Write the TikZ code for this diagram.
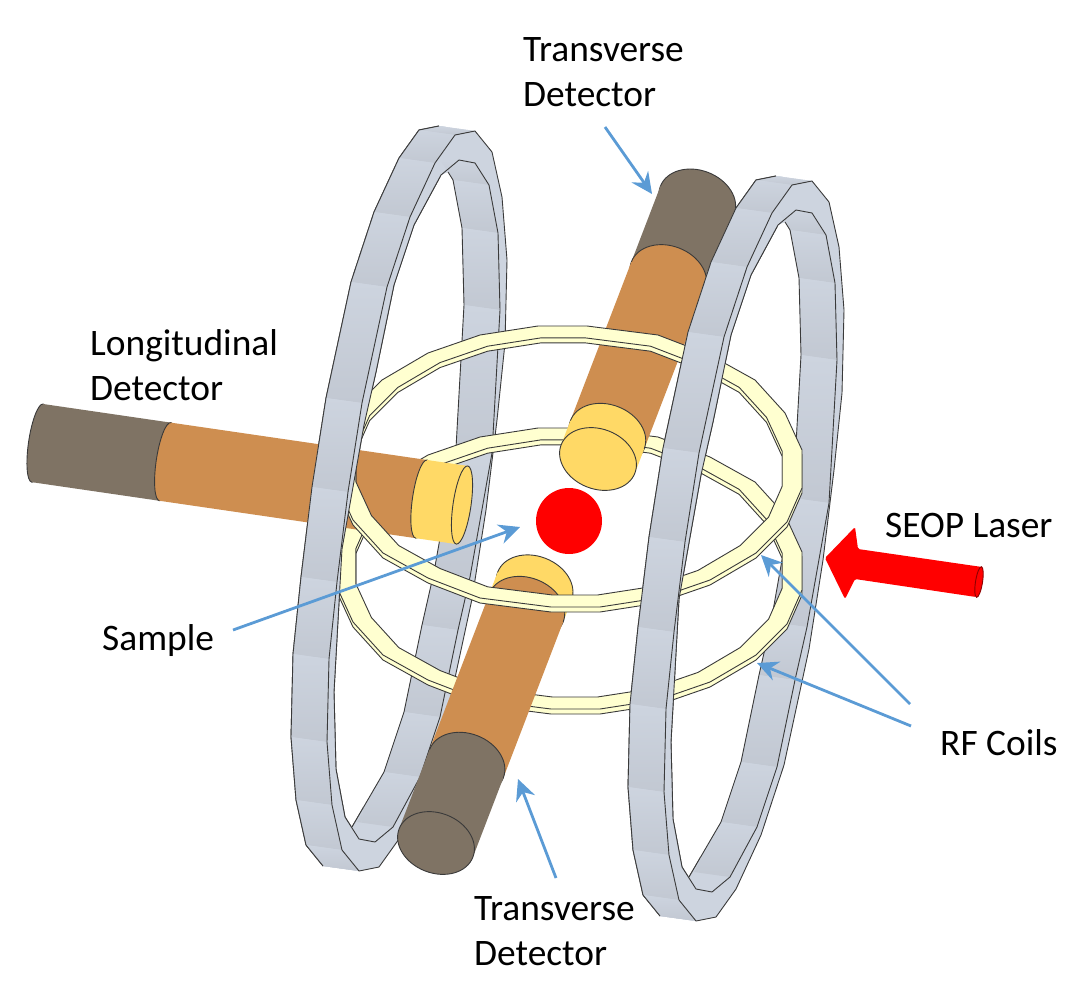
\documentclass[tikz,border=0pt]{standalone}
\usepackage{fontspec}
\setmainfont{Carlito}
\usetikzlibrary{arrows.meta}
\definecolor{ringc}{HTML}{CDD4DF}
\definecolor{ringd}{HTML}{C2C8D2}
\definecolor{coilc}{HTML}{FFFFD0}
\definecolor{darkc}{HTML}{7F7364}
\definecolor{bodyc}{HTML}{CE8E50}
\definecolor{capc}{HTML}{FFD966}
\definecolor{callc}{HTML}{5B9BD5}
\definecolor{edgec}{HTML}{3A3A3A}
% one ring, the other one is the same thing shifted
\newcommand{\ringshape}{%
  \fill[ringc,even odd rule] (323,866) -- (306,845) -- (296,800) -- (291,737) -- (293,654) -- (301,577) -- (312,487) -- (326,398) -- (351,282) -- (374,212) -- (399,158) -- (419,130) -- (439,126) -- (475,131) -- (492,152) -- (502,197) -- (507,260) -- (505,343) -- (497,420) -- (486,510) -- (472,599) -- (447,715) -- (424,785) -- (399,839) -- (379,867) -- (359,871) -- cycle
    (448,172) -- (453,180) -- (462,228) -- (464,305) -- (456,448) -- (434,572) -- (422,625) -- (404,712) -- (384,772) -- (352,827) -- (345,817) -- (336,769) -- (334,692) -- (342,549) -- (364,425) -- (376,372) -- (394,285) -- (414,225) -- (441,175) -- cycle;
  \foreach \xa/\ya/\xb/\yb in {475/131/455/135,455/135/435/163,435/163/410/217,410/217/387/287,387/287/362/403,362/403/348/492,348/492/337/582,337/582/329/659,329/659/327/742,327/742/332/805,332/805/342/850,342/850/359/871,
      475/163/489/185,489/185/498/233,498/233/500/310,500/310/492/453,492/453/470/577,470/577/458/630,458/630/440/717,440/717/420/777,420/777/393/827}
    \shade[top color=ringc,middle color=ringc,bottom color=ringd] (\xa-36,\ya-5) -- (\xa,\ya) -- (\xb,\yb) -- (\xb-36,\yb-5) -- cycle;
  \draw[edgec,thinline] (323,866) -- (306,845) -- (296,800) -- (291,737) -- (293,654) -- (301,577) -- (312,487) -- (326,398) -- (351,282) -- (374,212) -- (399,158) -- (419,130) -- (439,126);
  \draw[edgec,thinline] (475,131) -- (492,152) -- (502,197) -- (507,260) -- (505,343) -- (497,420) -- (486,510) -- (472,599) -- (447,715) -- (424,785) -- (399,839) -- (379,867) -- (359,871) -- (342,850) -- (332,805) -- (327,742) -- (329,659) -- (337,582) -- (348,492) -- (362,403) -- (387,287) -- (410,217) -- (435,163) -- (455,135) -- cycle;
  \draw[edgec,thinline] (475,163) -- (489,185) -- (498,233) -- (500,310) -- (492,453) -- (470,577) -- (458,630) -- (440,717) -- (420,777) -- (393,827) -- (375,842) -- (359,839) -- (345,817) -- (336,769) -- (334,692) -- (342,549) -- (364,425) -- (376,372) -- (394,285) -- (414,225) -- (441,175) -- (459,160) -- cycle;
  \draw[edgec,thinline] (448,172) -- (453,180) -- (462,228) -- (464,305) -- (456,448) -- (434,572) -- (422,625) -- (404,712) -- (384,772) -- (352,827);
}
% top face of a coil, outer loop and inner loop
\newcommand{\coilface}{%
  \draw[coilline,even odd rule] (351,411) -- (382,380) -- (428,353) -- (480,335) -- (538,326) -- (587,326) -- (658,335) -- (710,355) -- (755,380) -- (785,413) -- (802,450) -- (802,488) -- (787,522) -- (756,553) -- (710,580) -- (658,598) -- (600,607) -- (551,607) -- (480,598) -- (428,578) -- (383,553) -- (353,520) -- (336,483) -- (336,445) -- cycle
    (369.6,415.7) -- (397.9,387.4) -- (440,362.6) -- (487.6,346.2) -- (540.7,337.9) -- (585.5,337.9) -- (650.5,346.2) -- (698,364.5) -- (739.2,387.4) -- (766.6,417.5) -- (782.2,451.4) -- (782.2,486.2) -- (768.5,517.3) -- (740.1,545.6) -- (698,570.4) -- (650.5,586.8) -- (597.4,595) -- (552.6,595) -- (487.6,586.8) -- (440,568.5) -- (398.8,545.6) -- (371.4,515.5) -- (355.8,481.6) -- (355.8,446.8) -- cycle;
}
\newcommand{\coilshape}{%
  \begin{scope}[shift={(0,5)}]\coilface\end{scope}
  \coilface
}
% piece of a cylinder, #1 near end, #2 far end, #3 colour
\newcommand{\cylseg}[3]{%
  \draw[thinline,edgec,fill=#3] (0,#2) ellipse [x radius=\cylr,y radius=\cylb];
  \fill[#3] (-\cylr,#1) rectangle (\cylr,#2);
}
\begin{document}
\begin{tikzpicture}[x=1pt,y=-1pt,
  thinline/.style={line width=0.9pt,line join=round},
  coilline/.style={draw=edgec,fill=coilc,line width=0.9pt,line join=round},
  callout/.style={callc,line width=2.8pt,-{Stealth[length=21pt,width=20pt,inset=7pt]}},
  lbl/.style={font=\fontsize{37.4}{45}\selectfont,align=left,anchor=west,inner sep=0pt}]
\useasboundingbox (0,0) rectangle (1091,1001);
% rings, whole
\ringshape
\begin{scope}[shift={(337,50)}]\ringshape\end{scope}
% lower coil
\begin{scope}[shift={(0,102)}]\coilshape\end{scope}
% detectors
\def\cylr{39.5}\def\cylb{30}
\begin{scope}[shift={(436,843)},rotate=-21]
  \cylseg{-252}{-275}{capc}
  \cylseg{-85}{-252}{bodyc}
  \cylseg{0}{-85}{darkc}
  \draw[thinline,edgec,fill=darkc] (0,0) ellipse [x radius=\cylr,y radius=\cylb];
\end{scope}
\begin{scope}[shift={(598,459)},rotate=-21]
  \cylseg{-196}{-277}{darkc}
  \cylseg{-26}{-196}{bodyc}
  \cylseg{0}{-26}{capc}
  \draw[thinline,edgec,fill=capc] (0,0) ellipse [x radius=\cylr,y radius=\cylb];
\end{scope}
\def\cylb{9}
\begin{scope}[shift={(462,505)},rotate=81.7]
  \cylseg{-300}{-429}{darkc}
  \cylseg{-41}{-300}{bodyc}
  \cylseg{0}{-41}{capc}
  \draw[thinline,edgec,fill=capc] (0,0) ellipse [x radius=\cylr,y radius=\cylb];
\end{scope}
% upper coil
\coilshape
% near side of both rings again
\begin{scope}
  \clip (270,100) -- (450,100) -- (352,900) -- (270,900) -- cycle;
  \ringshape
\end{scope}
\begin{scope}[shift={(337,50)}]
  \clip (270,100) -- (450,100) -- (352,900) -- (270,900) -- cycle;
  \ringshape
\end{scope}
% sample and laser
\fill[red] (569,521) circle [radius=33];
\fill[red,rounded corners=1.5pt] (825,558) -- (855,527) -- (858,549) -- (982,567) -- (976,597) -- (855,579) -- (845,599) -- cycle;
\draw[fill=red,draw=red!55!black,line width=0.9pt,rotate around={81:(979,582)}] (979,582) ellipse [x radius=15.5,y radius=3.5];
% labels
\node[lbl] (toplbl) at (523,72) {Transverse\\Detector};
\node[lbl] (longlbl) at (90,365) {Longitudinal\\Detector};
\node[lbl] (laserlbl) at (885,525) {SEOP Laser};
\node[lbl] (samplelbl) at (102,641) {Sample};
\node[lbl] (rflbl) at (940,743) {RF Coils};
\node[lbl] (botlbl) at (474,931) {Transverse\\Detector};
% callouts
\coordinate (toptail) at (605,127); \coordinate (toptip) at (652,194);
\coordinate (bottail) at (556,878); \coordinate (bottip) at (518,779);
\coordinate (sampletail) at (233,630); \coordinate (sampletip) at (520,527);
\coordinate (rftaila) at (910,704); \coordinate (rftipa) at (761,555);
\coordinate (rftailb) at (911,726); \coordinate (rftipb) at (757,663);
\draw[callout] (toptail) -- (toptip);
\draw[callout] (bottail) -- (bottip);
\draw[callout] (sampletail) -- (sampletip);
\draw[callout] (rftaila) -- (rftipa);
\draw[callout] (rftailb) -- (rftipb);
\end{tikzpicture}
\end{document}
